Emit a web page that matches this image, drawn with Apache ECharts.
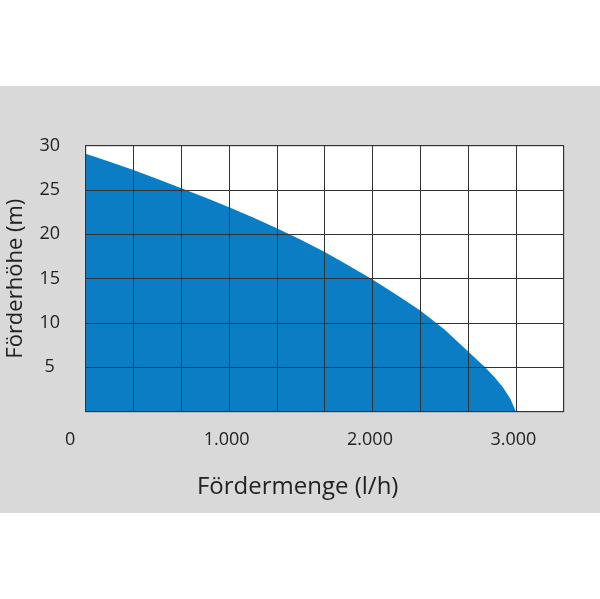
<!DOCTYPE html>
<html>
<head>
<meta charset="utf-8">
<script src="https://cdn.jsdelivr.net/npm/echarts@6/dist/echarts.min.js"></script>
<style>
html,body{margin:0;padding:0;background:#ffffff;}
#band{position:absolute;left:0;top:86px;width:600px;height:427px;background:#d9d9d9;}
#chart{position:absolute;left:0;top:0;width:600px;height:599px;}
</style>
</head>
<body>
<div id="band"></div>
<div id="chart"></div>
<script>
// Fördermenge (l/h) and Förderhöhe (m)
const flow = [0, 167, 333, 500, 667, 833, 1000, 1167, 1333, 1500, 1667, 1833, 2000, 2167, 2333, 2500, 2667, 2785, 2850, 2912, 2963, 3000];
const head = [29.1, 28.2, 27.25, 26.25, 25.2, 24.15, 23.05, 21.9, 20.7, 19.4, 18.0, 16.5, 14.9, 13.2, 11.4, 9.3, 6.8, 5.0, 3.9, 2.7, 1.4, 0];
const xTickLabels = {0: '0', 1000: '1.000', 2000: '2.000', 3000: '3.000'};
const yTickLabels = [5, 10, 15, 20, 25, 30];
const xName = 'Fördermenge (l/h)';
const yName = 'Förderhöhe (m)';

const chart = echarts.init(document.getElementById('chart'));
const font = '"Open Sans", "Noto Sans", sans-serif';
chart.setOption({
  backgroundColor: 'transparent',
  animation: false,
  grid: {left: 85.7, top: 145.7, right: 36.3, bottom: 187.3, outerBoundsMode: 'none', containLabel: false,
         show: true, backgroundColor: '#ffffff', borderColor: '#333333', borderWidth: 1, z: 0},
  xAxis: {
    type: 'value', min: 0, max: 10000 / 3, interval: 1000 / 3, z: 5,
    name: xName, nameLocation: 'middle', nameGap: 63,
    nameTextStyle: {fontFamily: font, fontSize: 24, color: '#222222', padding: [0, 54, 0, 0]},
    axisLine: {show: true, lineStyle: {color: '#333333', width: 1}},
    axisTick: {show: false},
    splitLine: {show: true, lineStyle: {color: '#333333', width: 1}},
    axisLabel: {
      fontFamily: font, fontSize: 18, color: '#222222', margin: 19, showMaxLabel: false,
      formatter: function (v) {
        const r = Math.round(v);
        if (r === 0) return '{z|0}';
        return xTickLabels[r] ? '{n|' + xTickLabels[r] + '}' : '';
      },
      rich: {
        z: {fontFamily: font, fontSize: 18, color: '#222222', padding: [0, 31, 0, 0]},
        n: {fontFamily: font, fontSize: 18, color: '#222222', padding: [0, 5, 0, 0]}
      }
    }
  },
  yAxis: {
    type: 'value', min: 0, max: 30, interval: 5, z: 5,
    name: yName, nameLocation: 'middle', nameGap: 59,
    nameTextStyle: {fontFamily: font, fontSize: 22, color: '#222222'},
    axisLine: {show: true, lineStyle: {color: '#333333', width: 1}},
    axisTick: {show: false},
    splitLine: {show: true, lineStyle: {color: '#333333', width: 1}},
    axisLabel: {
      fontFamily: font, fontSize: 18, color: '#222222', margin: 36, align: 'center',
      formatter: function (v) { return yTickLabels.indexOf(v) >= 0 ? String(v) : ''; }
    }
  },
  series: [{
    type: 'line',
    data: flow.map((f, i) => [f, head[i]]),
    smooth: false,
    symbol: 'none',
    lineStyle: {width: 0, color: '#0b7dc4'},
    areaStyle: {color: '#0b7dc4', opacity: 1},
    z: 2
  }]
});
</script>
</body>
</html>
